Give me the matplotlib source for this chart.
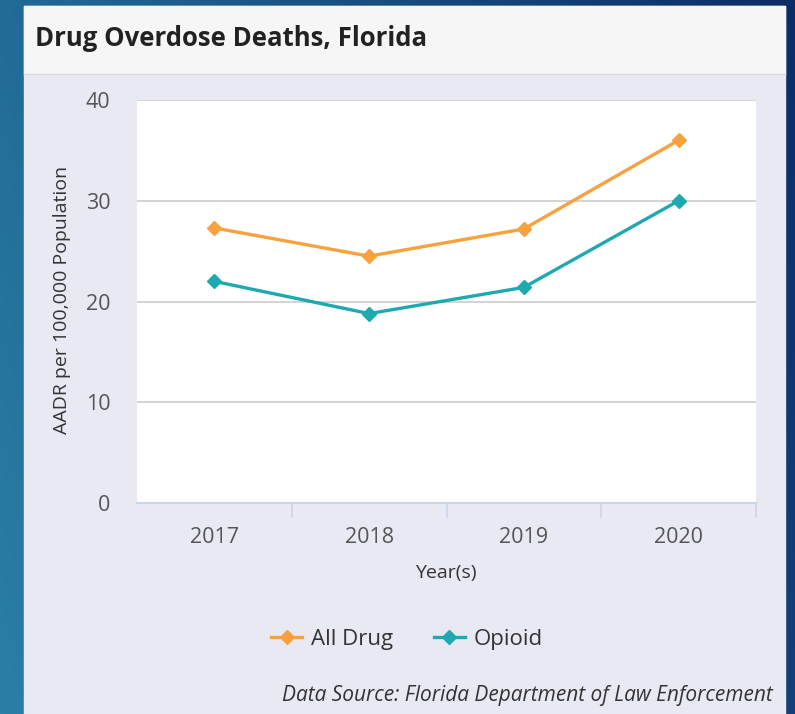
import numpy as np
import matplotlib.pyplot as plt
from matplotlib.patches import Rectangle

years = ["2017", "2018", "2019", "2020"]
all_drug = [27.3, 24.5, 27.2, 36.0]
opioid = [22.0, 18.8, 21.4, 30.0]
y_ticks = [0, 10, 20, 30, 40]

W, H = 795, 714
plt.rcParams['font.family'] = ['Open Sans', 'DejaVu Sans']

fig = plt.figure(figsize=(W / 100, H / 100), dpi=100)


def fx(px):
    return px / W


def fy(py):
    return 1 - py / H


# outer blue gradient background
bg = fig.add_axes([0, 0, 1, 1])
bg.set_axis_off()
gx = np.linspace(0, 1, 200)
gy = np.linspace(0, 1, 200)
GX, GY = np.meshgrid(gx, gy)
t = np.clip(0.75 * GX + 0.25 * (1 - GY), 0, 1)
c1 = np.array([0x2a, 0x7f, 0xa8]) / 255
c2 = np.array([0x0b, 0x2d, 0x66]) / 255
img = c1[None, None, :] * (1 - t[..., None]) + c2[None, None, :] * t[..., None]
bg.imshow(img, extent=[0, 1, 0, 1], aspect='auto', origin='upper')
bg.set_xlim(0, 1)
bg.set_ylim(0, 1)

# panel body and title bar
bg.add_patch(Rectangle((fx(24), 0), fx(785) - fx(24), fy(6), color='#e9e9f4', zorder=2))
bg.add_patch(Rectangle((fx(24), fy(74)), fx(785) - fx(24), fy(6) - fy(74), color='#f6f6f6', zorder=3))
bg.plot([fx(24), fx(785)], [fy(74), fy(74)], color='#dadada', lw=1, zorder=4)

fig.text(fx(35), fy(39), "Drug Overdose Deaths, Florida", fontsize=18.5, fontweight='bold',
         color='#222222', va='center', ha='left')

# main chart
ax = fig.add_axes([fx(137), fy(503), fx(756) - fx(137), fy(100) - fy(503)])
ax.set_facecolor('white')
x = np.arange(len(years))
ax.plot(x, all_drug, color='#f7a13f', lw=2.4, marker='D', ms=7, label='All Drug', zorder=3)
ax.plot(x, opioid, color='#1ea9b1', lw=2.4, marker='D', ms=7, label='Opioid', zorder=3)

ax.set_xlim(-0.5, 3.5)
ax.set_ylim(0, 40)
ax.set_yticks(y_ticks)
ax.set_xticks(x)
ax.set_xticklabels(years)
ax.set_xticks([0.5, 1.5, 2.5, 3.5], minor=True)
ax.tick_params(axis='x', which='major', length=0, pad=17, labelsize=15.5, labelcolor='#555555')
ax.tick_params(axis='x', which='minor', length=11, width=1.2, color='#ccd6eb')
ax.tick_params(axis='y', length=0, pad=19, labelsize=15.5, labelcolor='#555555')
ax.grid(axis='y', color='#cccccc', lw=1.2)
ax.set_axisbelow(True)
for s in ['top', 'right', 'left']:
    ax.spines[s].set_visible(False)
ax.spines['bottom'].set_color('#ccd6eb')
ax.spines['bottom'].set_linewidth(1.5)

fig.text(fx(62), fy(300), "AADR per 100,000 Population", rotation=90, fontsize=14,
         color='#333333', ha='center', va='center')
fig.text(fx(446), fy(573), "Year(s)", fontsize=14, color='#333333', ha='center', va='center')

ax.legend(loc='center', bbox_to_anchor=(fx(407), fy(639)), bbox_transform=fig.transFigure,
          ncol=2, frameon=False, fontsize=16, handlelength=1.4, columnspacing=1.8,
          handletextpad=0.4, labelcolor='#333333')

fig.text(fx(773), fy(696), "Data Source: Florida Department of Law Enforcement", fontsize=15,
         style='italic', color='#333333', ha='right', va='center')

fig.savefig('out.png', dpi=100)
